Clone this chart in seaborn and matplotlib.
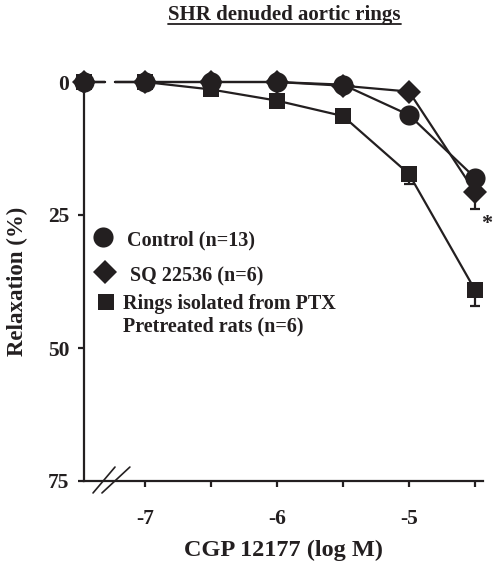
import numpy as np
import pandas as pd
import seaborn as sns
import matplotlib
matplotlib.use("Agg")
import matplotlib.pyplot as plt
from matplotlib.lines import Line2D

# ---------------- data ----------------
title = "SHR denuded aortic rings"
baseline_x = -7.46           # basal (no agonist) point, left of the axis break
conc = [-7.0, -6.5, -6.0, -5.5, -5.0, -4.5]
control = [0.0, 0.0, 0.0, 0.0, 0.5, 6.2, 18.0]      # first value = basal
control_err = [0.0, 0.0, 0.0, 0.0, 0.3, 0.8, 1.5]
sq = [0.0, 0.0, 0.0, 0.0, 0.7, 1.8, 20.7]
sq_err = [0.0, 0.0, 0.0, 0.0, 0.3, 0.5, 3.2]
ptx = [0.0, 0.0, 1.4, 3.5, 6.4, 17.3, 39.1]
ptx_err = [0.0, 0.0, 0.4, 0.6, 0.6, 1.8, 3.0]
labels = ["Control (n=13)", "SQ 22536 (n=6)",
          ["Rings isolated from PTX", "Pretreated rats (n=6)"]]
xtick_major = [-7, -6, -5]
xtick_minor = [-6.5, -5.5, -4.5]
ytick_vals = [0, 25, 50, 75]

# ---------------- style ----------------
sns.set_style("ticks")
plt.rcParams["font.family"] = ["Liberation Serif", "DejaVu Serif"]
plt.rcParams["font.weight"] = "bold"
INK = "#231f20"
LW = 1.6

fig = plt.figure(figsize=(4.94, 5.63), dpi=100)
ax = fig.add_axes([84 / 494, 1 - 481 / 563, 399 / 494, 399 / 563])

series = [
    ("ptx", ptx, ptx_err, "s", 12.0),
    ("control", control, control_err, "o", 14.5),
    ("sq", sq, sq_err, "D", 12.5),
]

# break in the connecting line between the basal point and -7
gap = (-7.30, -7.225)

for name, vals, errs, mk, ms in series:
    df = pd.DataFrame({"conc": conc, "relax": vals[1:]})
    sns.lineplot(data=df, x="conc", y="relax", ax=ax, color=INK, lw=LW,
                 marker=mk, markersize=ms, markeredgewidth=0, legend=False,
                 clip_on=False, zorder=3)
    # downward (one-sided) error bars
    ax.errorbar(conc, vals[1:], yerr=[np.zeros(len(conc)), errs[1:]],
                fmt="none", ecolor=INK, elinewidth=LW, capsize=3.5,
                capthick=LW, zorder=2, clip_on=False)
    # basal point + broken segment to first concentration
    ax.plot([baseline_x, gap[0]], [vals[0], vals[0]], color=INK, lw=LW,
            clip_on=False, zorder=2)
    ax.plot([gap[1], conc[0]], [vals[0], vals[1]], color=INK, lw=LW,
            clip_on=False, zorder=2)
    ax.plot([baseline_x], [vals[0]], marker=mk, ms=ms, color=INK,
            markeredgewidth=0, clip_on=False, zorder=4)

ax.set_xlim(baseline_x, -4.44)
ax.set_ylim(75, 0)

ax.set_xticks(xtick_major)
ax.set_xticklabels([str(v) for v in xtick_major])
ax.set_xticks(xtick_minor, minor=True)
ax.set_yticks(ytick_vals)
ax.set_yticklabels([str(v) for v in ytick_vals])

ax.tick_params(axis="x", which="both", direction="out", length=4, width=LW,
               color=INK, labelsize=15.5, pad=16, labelcolor=INK)
ax.tick_params(axis="y", which="both", direction="out", length=4.5, width=LW,
               color=INK, labelsize=15.5, pad=6, labelcolor=INK)
for lab in ax.get_xticklabels() + ax.get_yticklabels():
    lab.set_fontweight("bold")

for s in ["top", "right"]:
    ax.spines[s].set_visible(False)
for s in ["left", "bottom"]:
    ax.spines[s].set_linewidth(LW)
    ax.spines[s].set_color(INK)

ax.set_xlabel("CGP 12177 (log M)", fontsize=17.5, fontweight="bold",
              color=INK, labelpad=8)
ax.set_ylabel("Relaxation (%)", fontsize=16.5, fontweight="bold",
              color=INK, labelpad=14)

# axis break marks on the x axis
for x0, x1 in [(0.0226, 0.0777), (0.045, 0.115)]:
    ax.add_line(Line2D([x0, x1], [-0.030, 0.035], transform=ax.transAxes,
                       color=INK, lw=1.2, clip_on=False))

# significance asterisk
ax.text(-4.41, 26.6, "*", fontsize=16, fontweight="bold", color=INK,
        ha="center", va="center", clip_on=False)

# legend (drawn manually to match layout)
leg_items = [
    ("o", 14.5, 103, 237, 127, [245]),
    ("D", 12.5, 105, 272, 130, [281]),
    ("s", 12.0, 106, 302, 123, [309, 331]),
]
for (mk, ms, mx, my, tx, tys), lab in zip(leg_items, labels):
    fig.add_artist(Line2D([mx / 494], [1 - my / 563], marker=mk, ms=ms,
                          color=INK, markeredgewidth=0,
                          transform=fig.transFigure))
    lines = lab if isinstance(lab, list) else [lab]
    for line, ty in zip(lines, tys):
        fig.text(tx / 494, 1 - ty / 563, line, fontsize=14.5,
                 fontweight="bold", color=INK, ha="left", va="baseline")

# underlined title
t = fig.text(284.5 / 494, 1 - 20 / 563, title, fontsize=15, fontweight="bold",
             color=INK, ha="center", va="baseline")
fig.canvas.draw()
bb = t.get_window_extent().transformed(fig.transFigure.inverted())
fig.add_artist(Line2D([bb.x0, bb.x1], [1 - 23.5 / 563] * 2, color=INK,
                      lw=1.3, transform=fig.transFigure))

fig.savefig("out.png", dpi=100)
